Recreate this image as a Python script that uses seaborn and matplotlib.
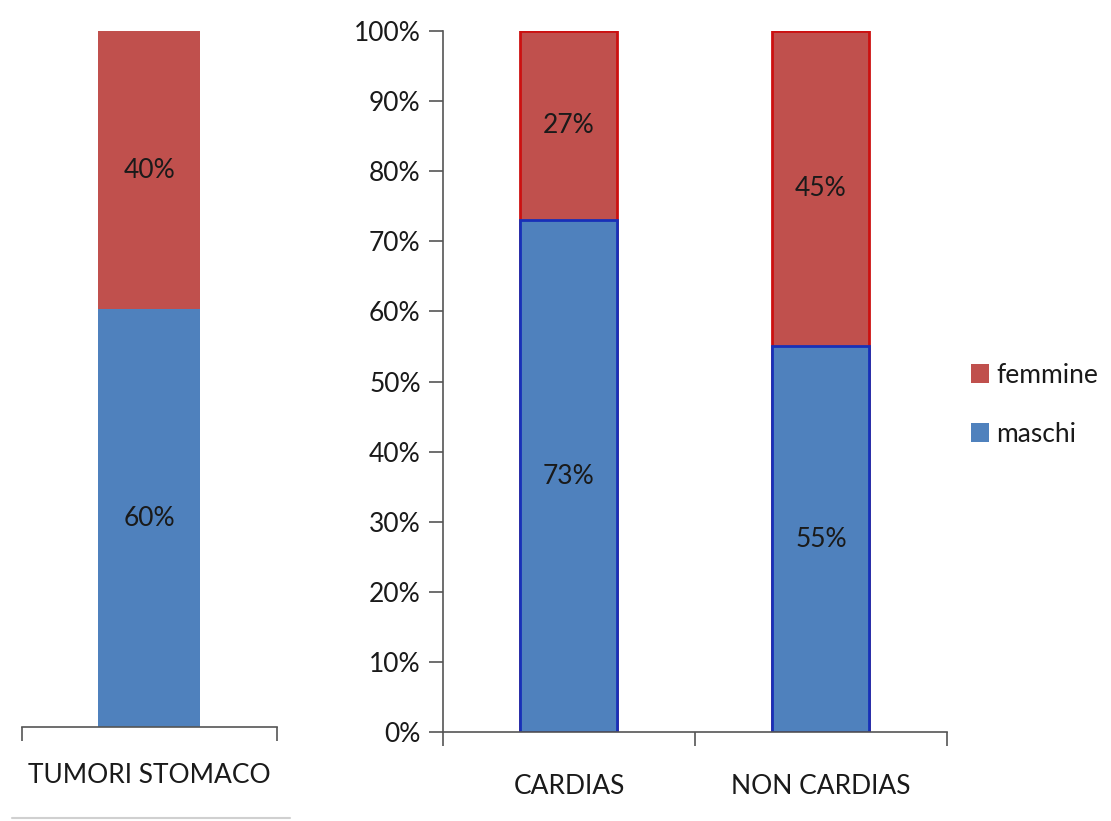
import numpy as np
import pandas as pd
import matplotlib
matplotlib.use('Agg')
import matplotlib.pyplot as plt
from matplotlib.lines import Line2D
from matplotlib.patches import Patch
from matplotlib.ticker import PercentFormatter, FixedLocator
import seaborn as sns

# --- data ---
left_categories = ['TUMORI STOMACO']
left_maschi = [60]
left_femmine = [40]

right_categories = ['CARDIAS', 'NON CARDIAS']
right_maschi = [73, 55]
right_femmine = [27, 45]

series_labels = ['femmine', 'maschi']
blue = '#4F81BD'
red = '#C0504D'

sns.set_style('white')
plt.rcParams['font.family'] = ['Lato', 'DejaVu Sans']
axis_color = '#555555'

fig = plt.figure(figsize=(11.11, 8.21), dpi=100)
ax_l = fig.add_axes([0.0198, 0.1145, 0.2295, 0.8477])
ax_r = fig.add_axes([0.3987, 0.1084, 0.4536, 0.8538])

# --- left panel ---
left_df = pd.DataFrame({'cat': left_categories,
                        'tot': np.array(left_maschi) + np.array(left_femmine),
                        'maschi': left_maschi})
sns.barplot(data=left_df, x='cat', y='tot', color=red, saturation=1, width=0.4,
            ax=ax_l, linewidth=0)
sns.barplot(data=left_df, x='cat', y='maschi', color=blue, saturation=1, width=0.4,
            ax=ax_l, linewidth=0)
ax_l.set_ylim(0, 100)
ax_l.set_xlim(-0.5, 0.5)
# labels
for i, (m, f) in enumerate(zip(left_maschi, left_femmine)):
    ax_l.text(i, m / 2, f'{m}%', ha='center', va='center', fontsize=19, color='#1a1a1a')
    ax_l.text(i, m + f / 2, f'{f}%', ha='center', va='center', fontsize=19, color='#1a1a1a')
ax_l.set_yticks([])
ax_l.xaxis.set_major_locator(FixedLocator([0]))
ax_l.set_xticklabels(left_categories)
ax_l.xaxis.set_minor_locator(FixedLocator([-0.5, 0.5]))
ax_l.tick_params(axis='x', which='major', length=0, pad=26, labelsize=19, labelcolor='#1a1a1a')
ax_l.tick_params(axis='x', which='minor', length=10, width=1.2, color=axis_color, bottom=True)
for s in ['left', 'right', 'top']:
    ax_l.spines[s].set_visible(False)
ax_l.spines['bottom'].set_color(axis_color)
ax_l.spines['bottom'].set_linewidth(1.2)
ax_l.set_xlabel('')
ax_l.set_ylabel('')

# --- right panel ---
right_df = pd.DataFrame({'cat': right_categories,
                         'tot': np.array(right_maschi) + np.array(right_femmine),
                         'maschi': right_maschi})
sns.barplot(data=right_df, x='cat', y='tot', color=red, saturation=1, width=0.385,
            ax=ax_r, edgecolor='#cc1010', linewidth=2)
sns.barplot(data=right_df, x='cat', y='maschi', color=blue, saturation=1, width=0.385,
            ax=ax_r, edgecolor='#1830b8', linewidth=2)
ax_r.set_ylim(0, 100)
ax_r.set_xlim(-0.5, 1.5)
for i, (m, f) in enumerate(zip(right_maschi, right_femmine)):
    ax_r.text(i, m / 2, f'{m}%', ha='center', va='center', fontsize=19, color='#1a1a1a')
    ax_r.text(i, m + f / 2, f'{f}%', ha='center', va='center', fontsize=19, color='#1a1a1a')
ax_r.set_yticks(np.arange(0, 101, 10))
ax_r.yaxis.set_major_formatter(PercentFormatter(decimals=0))
ax_r.tick_params(axis='y', length=10, width=1.2, color=axis_color, left=True,
                 labelsize=19, labelcolor='#1a1a1a', pad=6)
ax_r.xaxis.set_major_locator(FixedLocator([0, 1]))
ax_r.set_xticklabels(right_categories)
ax_r.xaxis.set_minor_locator(FixedLocator([-0.5, 0.5, 1.5]))
ax_r.tick_params(axis='x', which='major', length=0, pad=30, labelsize=19, labelcolor='#1a1a1a')
ax_r.tick_params(axis='x', which='minor', length=10, width=1.2, color=axis_color, bottom=True)
for s in ['right', 'top']:
    ax_r.spines[s].set_visible(False)
for s in ['left', 'bottom']:
    ax_r.spines[s].set_color(axis_color)
    ax_r.spines[s].set_linewidth(1.2)
ax_r.set_xlabel('')
ax_r.set_ylabel('')

# --- legend ---
handles = [Patch(facecolor=red, edgecolor='none'), Patch(facecolor=blue, edgecolor='none')]
fig.legend(handles, series_labels, loc='center left', bbox_to_anchor=(0.874, 0.507),
           frameon=False, fontsize=19, handlelength=0.7, handleheight=0.7,
           handletextpad=0.25, labelspacing=1.3, labelcolor='#1a1a1a',
           borderpad=0, borderaxespad=0)

# faint line at the bottom left
fig.add_artist(Line2D([0.011, 0.261], [0.004, 0.004], color='#d0d0d0', linewidth=1.5))

fig.savefig('out.png', dpi=100)
